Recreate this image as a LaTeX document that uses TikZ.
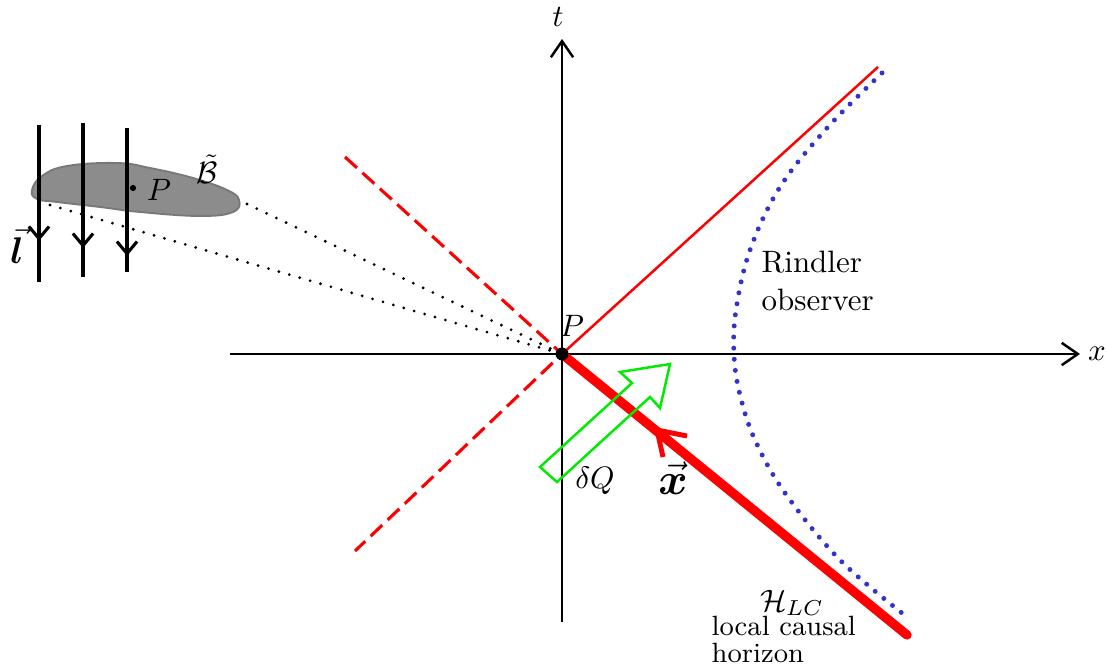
\documentclass[tikz,border=0pt]{standalone}
\usepackage{bm}
\usetikzlibrary{arrows.meta}
\definecolor{rindler}{RGB}{50,50,205}
\definecolor{qgreen}{RGB}{0,235,0}
\definecolor{blobgray}{RGB}{140,140,140}
\definecolor{blobedge}{RGB}{120,120,120}
\begin{document}
\begin{tikzpicture}[x=0.323pt,y=-0.323pt,
  axis/.style={line width=0.8pt,-{Straight Barb[length=5.2pt,width=7.2pt]}},
  beam/.style={line width=1pt},
  beamtip/.style={line width=1pt,-{Straight Barb[length=3.9pt,width=6.5pt]}},
  blackdots/.style={line width=1pt,line cap=round,dash pattern=on 0pt off 3.5pt},
  bluedots/.style={rindler,line width=1.6pt,line cap=round,dash pattern=on 0pt off 3.6pt},
  redthin/.style={red,line width=0.8pt},
  reddash/.style={red,line width=1pt,dash pattern=on 5.2pt off 2.4pt},
  redthick/.style={red,line width=3pt,line cap=round},
  redtip/.style={red,line width=1.6pt},
  qarrow/.style={qgreen,line width=0.8pt,line join=miter},
  lbl/.style={inner sep=0pt}
]
\useasboundingbox (0,0) rectangle (1107,671);

% named points
\coordinate (O) at (562,354);
\coordinate (xend) at (1080,354);
\coordinate (xstart) at (230,354);
\coordinate (tend) at (562,39);
\coordinate (tstart) at (562,622);
\coordinate (Ru) at (878,67);
\coordinate (DL1) at (345,157);
\coordinate (DL2) at (355,551);
\coordinate (H) at (907,635);
\coordinate (blobR) at (247,204);
\coordinate (blobL) at (50,205);

% blob
\draw[fill=blobgray,draw=blobedge,line width=0.6pt] plot[smooth cycle,tension=0.7] coordinates
 {(32,190) (42,176) (67,166) (117,163) (150,168) (193,178) (227,190) (239,200) (233,212) (200,216) (140,212) (100,207) (57,202) (37,199)};
\fill (133,188) circle (1pt) coordinate (Pb);
\node[lbl] (Pblab) at (159,190) {$P$};
\node[lbl] (Blab) at (207,169) {$\tilde{\mathcal{B}}$};

% dotted rays
\draw[blackdots] (blobR) -- (O);
\draw[blackdots] (blobL) -- (O);

% light rays
\coordinate (l1t) at (39,125); \coordinate (l1m) at (39,241); \coordinate (l1b) at (39,282);
\coordinate (l2t) at (83,123); \coordinate (l2m) at (83,248); \coordinate (l2b) at (83,277);
\coordinate (l3t) at (127,128); \coordinate (l3m) at (127,256); \coordinate (l3b) at (127,272);
\draw[beam] (l1t) -- (l1b); \draw[beamtip] (l1t) -- (l1m);
\draw[beam] (l2t) -- (l2b); \draw[beamtip] (l2t) -- (l2m);
\draw[beam] (l3t) -- (l3b); \draw[beamtip] (l3t) -- (l3m);
\node[lbl,font=\large] (lvec) at (17,245) {$\vec{\bm{l}}$};

% axes
\draw[axis] (xstart) -- (xend);
\draw[axis] (tstart) -- (tend);
\node[lbl] (xlab) at (1097,354) {$x$};
\node[lbl] (tlab) at (558,17) {$t$};

% light cone
\draw[redthin] (O) -- (Ru);
\draw[reddash] (DL1) -- (O) -- (DL2);
\draw[redthick] (O) -- (H);
\coordinate (xtip) at (657,430);
\coordinate (xw1) at (687,436);
\coordinate (xw2) at (663,457);
\draw[redtip] (xw1) -- (xtip) -- (xw2);

% Rindler observer
\draw[bluedots] plot[smooth,tension=0.6] coordinates
 {(882,73) (827,128) (780,187) (750,250) (736,310) (734,355) (740,395) (755,440) (785,493) (840,560) (907,617)};

% heat flux arrow
\draw[qarrow] (540,467) -- (632,383) -- (620,372) -- (670,364) -- (660,408) -- (650,397) -- (557,482) -- cycle;

\fill (O) circle (2.1pt);
\node[lbl] (Plab) at (572,326) {$P$};
\node[lbl] (dQ) at (595,481) {$\delta Q$};
\node[lbl,font=\Large] (xvec) at (673,478) {$\vec{\bm{x}}$};
\node[lbl,anchor=west,align=left] (rind) at (761,281) {Rindler\\observer};
\node[lbl] (HLC) at (792,603) {$\mathcal{H}_{LC}$};
\node[lbl,anchor=base west,font=\small] (loc) at (711,635) {local causal};
\node[lbl,anchor=base west,font=\small] (hor) at (711,662) {horizon};
\end{tikzpicture}
\end{document}
